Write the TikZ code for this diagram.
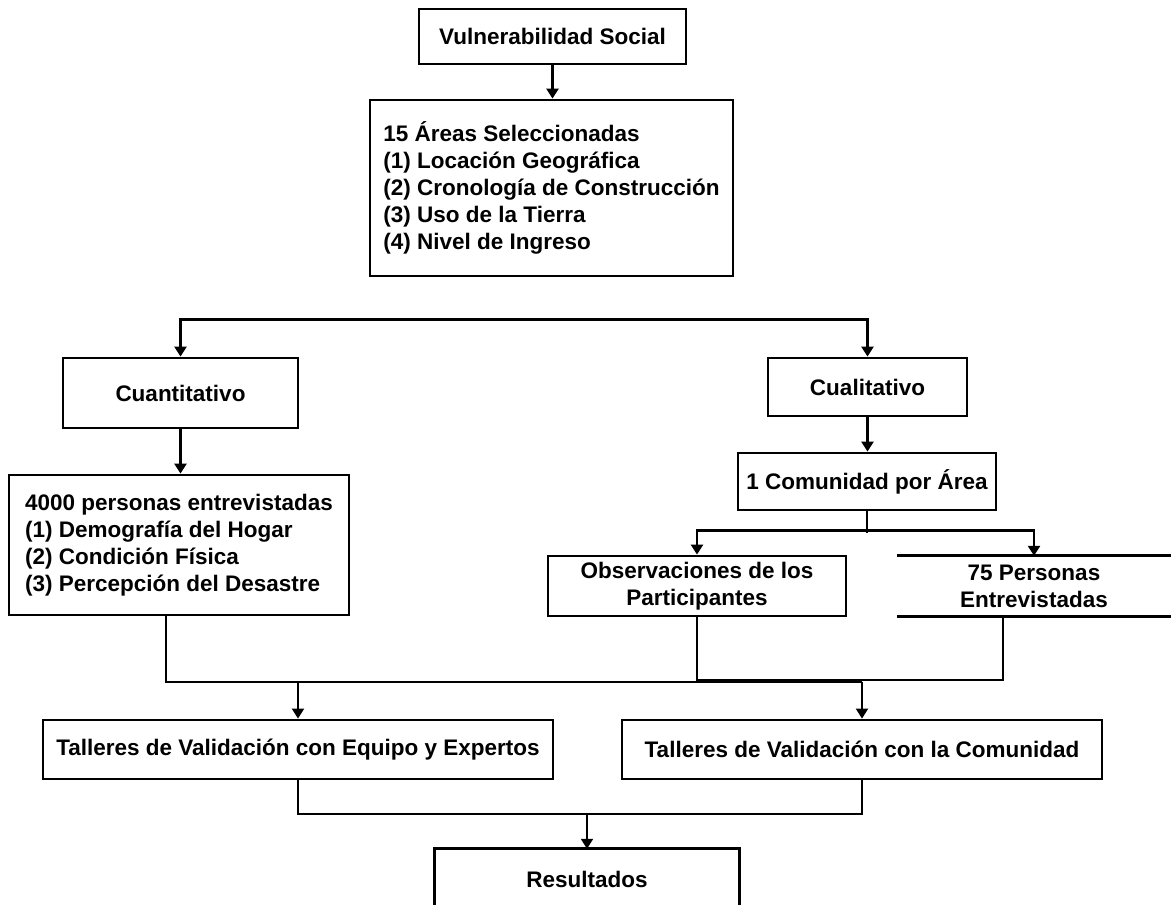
\documentclass[tikz,border=0pt]{standalone}
\usepackage{fontspec}
\setmainfont{Liberation Sans}
\usetikzlibrary{arrows.meta}
\newcommand{\boxfont}{\bfseries\fontsize{22.5}{27}\selectfont}
\begin{document}
\begin{tikzpicture}[x=1pt,y=-1pt,
  box/.style={draw, rectangle, line width=2.8pt, inner sep=0pt, align=center, font=\boxfont},
  openbox/.style={rectangle, inner sep=0pt, align=center, font=\boxfont},
  edge/.style={line width=2.8pt},
  conn/.style={line width=2.4pt},
  thinconn/.style={line width=2pt},
  tip/.style={-{Triangle[width=12pt,length=10pt]}},
  tips/.style={{Triangle[width=12pt,length=10pt]}-{Triangle[width=12pt,length=10pt]}},
]
\useasboundingbox (0,0) rectangle (1171,905);
\fill[white] (0,0) rectangle (1171,905);

% boxes
\node[box, minimum width=267pt, minimum height=55pt] (vuln) at (552.5,36.5) {Vulnerabilidad Social};
\node[box, minimum width=363pt, minimum height=176pt, align=left] (areas) at (551.5,188)
  {15 Áreas Seleccionadas\\(1) Locación Geográfica\\(2) Cronología de Construcción\\(3) Uso de la Tierra\\(4) Nivel de Ingreso};
\node[box, minimum width=235pt, minimum height=70pt] (cuanti) at (180.5,393) {Cuantitativo};
\node[box, minimum width=199pt, minimum height=58pt] (cuali) at (867.5,387) {Cualitativo};
\node[box, minimum width=340pt, minimum height=140pt, align=left] (encuesta) at (179,545)
  {4000 personas entrevistadas\\(1) Demografía del Hogar\\(2) Condición Física\\(3) Percepción del Desastre};
\node[box, minimum width=258pt, minimum height=57pt] (comunidad) at (867,481.5) {1 Comunidad por Área};
\node[box, minimum width=298pt, minimum height=60pt] (obs) at (697,586) {Observaciones de los\\Participantes};
\node[openbox, minimum width=274pt, minimum height=60pt] (pers) at (1034,586) {75 Personas\\Entrevistadas};
\draw[edge] (pers.north west) -- (pers.north east);
\draw[edge] (pers.south west) -- (pers.south east);
\node[box, minimum width=510pt, minimum height=59pt] (tequipo) at (298,749.5) {Talleres de Validación con Equipo y Expertos};
\node[box, minimum width=480pt, minimum height=59pt] (tcom) at (862,749.5) {Talleres de Validación con la Comunidad};
\node[openbox, minimum width=304pt, minimum height=60pt] (result) at (587,879) {Resultados};
\draw[edge] (result.south west) -- (result.north west) -- (result.north east) -- (result.south east);

% connectors
\draw[conn,tip] (vuln.south) -- (vuln.south |- areas.north);
\draw[conn,tips] (cuanti.north) -- ++(0,-37) -| (cuali.north);
\draw[conn,tip] (cuanti.south) -- (cuanti.south |- encuesta.north);
\draw[conn,tip] (cuali.south) -- (cuali.south |- comunidad.north);
\draw[conn] (comunidad.south) -- ++(0,22);
\draw[conn,tips] (obs.north) -- ++(0,-24) -| (pers.north);

\draw[thinconn] (encuesta.south -| 166,0) -- (166,682) -- (tcom.north |- 0,682);
\draw[thinconn] (obs.south) -- (697,680) -- (1003,680) -- (pers.south -| 1003,0);
\draw[thinconn,tip] (tequipo.north |- 0,682) -- (tequipo.north);
\draw[thinconn,tip] (tcom.north |- 0,682) -- (tcom.north);
\draw[thinconn] (tequipo.south) -- ++(0,34) -| (tcom.south);
\draw[thinconn,tip] (result.north |- 0,813) -- (result.north);
\end{tikzpicture}
\end{document}
